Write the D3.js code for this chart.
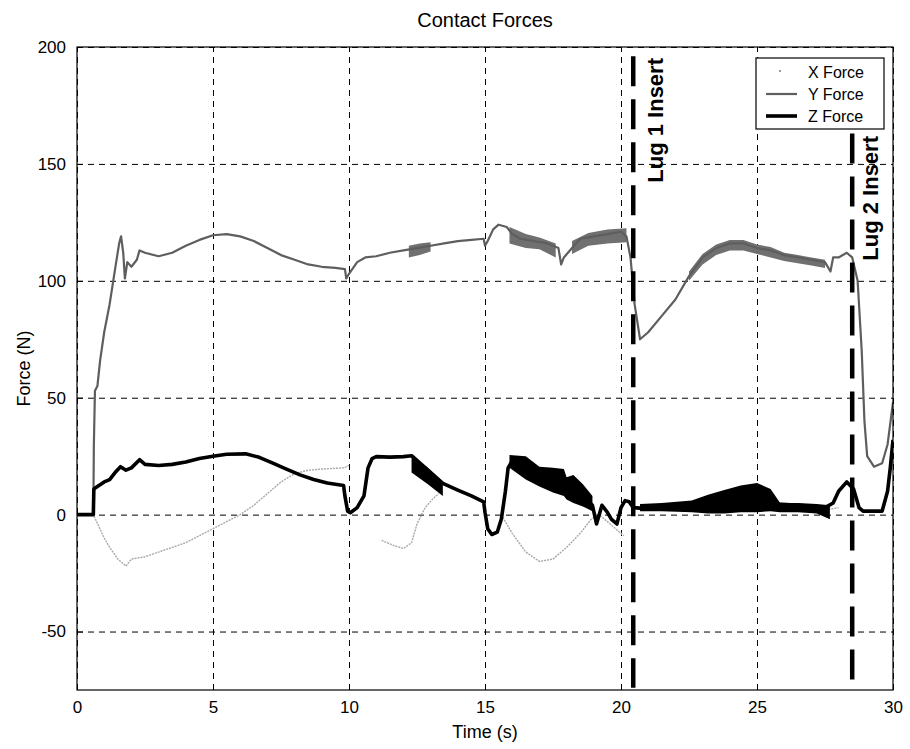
<!DOCTYPE html>
<html>
<head>
<meta charset="utf-8">
<script src="https://d3js.org/d3.v7.min.js"></script>
<style>
  body { margin: 0; background: #fff; }
  svg text { font-family: "Liberation Sans", Arial, sans-serif; fill: #000; }
</style>
</head>
<body>
<div id="chart"></div>
<script>
// Values (time s, force N)
let xTicks = [0, 5, 10, 15, 20, 25, 30];
let yTicks = [-50, 0, 50, 100, 150, 200];
let seriesNames = ['X Force', 'Y Force', 'Z Force'];

let xForce = [
  [0, 0], [0.6, 0], [0.8, -5], [1.0, -10], [1.2, -14], [1.5, -19], [1.8, -22], [2.0, -19],
  [2.5, -18], [3.0, -16], [3.5, -14], [4.0, -12], [4.5, -9], [5.0, -6], [5.5, -3], [6.0, 0],
  [6.5, 4], [7.0, 9], [7.5, 14], [8.0, 17.5], [8.5, 19], [9.0, 19.5], [9.8, 20], [10.0, 21],
  [10.05, null],
  [11.2, -11], [11.6, -13], [12.0, -14.5], [12.3, -12], [12.5, -4], [12.8, 3], [13.1, 7], [13.3, 9],
  [13.35, null],
  [15.6, 0], [16.0, -8], [16.5, -16], [17.0, -20], [17.5, -19], [18.0, -14], [18.5, -8], [18.9, -2],
  [19.2, 0], [19.5, -3], [19.8, -6], [20.1, -9],
  [20.15, null],
  [20.8, 2], [21.5, 2.5], [22.5, 3], [23.5, 3.5], [24.5, 4], [25.5, 3], [26.5, 2.5], [27.5, 2],
  [28.0, 3]
];

let yForce = [
  [0, 0], [0.6, 0], [0.62, 30], [0.66, 53], [0.75, 55], [0.85, 66], [1.0, 78], [1.2, 90],
  [1.4, 105], [1.55, 116], [1.62, 119], [1.7, 112], [1.76, 101], [1.85, 108], [2.0, 106],
  [2.2, 109], [2.3, 113], [2.5, 112], [3.0, 110.5], [3.5, 112], [4.0, 115], [4.5, 117.5],
  [5.0, 119.5], [5.5, 120], [6.0, 119], [6.5, 117], [7.0, 114], [7.5, 111], [8.0, 109],
  [8.5, 107], [9.0, 106], [9.5, 105.5], [9.85, 105], [9.9, 101], [10.0, 103], [10.3, 108],
  [10.6, 110], [11.0, 110.5], [11.5, 112], [12.0, 113], [12.5, 114], [13.0, 115], [13.5, 116],
  [14.0, 117], [14.5, 117.5], [14.95, 118], [15.0, 115], [15.1, 117], [15.3, 122], [15.5, 124],
  [15.8, 123], [16.0, 120], [16.3, 118], [16.8, 117], [17.3, 116], [17.7, 114], [17.8, 107],
  [17.9, 110], [18.2, 114], [18.5, 118], [19.0, 119], [19.5, 120], [20.0, 121], [20.2, 119],
  [20.35, 110], [20.5, 90], [20.7, 75], [21.0, 78], [21.5, 85], [22.0, 92], [22.5, 102],
  [23.0, 110], [23.5, 114], [24.0, 116], [24.5, 116], [25.0, 114], [25.5, 113], [26.0, 111],
  [26.5, 110], [27.0, 109], [27.5, 108], [27.7, 104], [27.8, 110], [28.0, 110], [28.3, 112],
  [28.5, 110], [28.7, 100], [28.85, 70], [28.95, 40], [29.05, 25], [29.3, 20.5], [29.6, 22],
  [29.8, 30], [30, 48]
];

let zForce = [
  [0, 0], [0.6, 0], [0.62, 11], [0.75, 12], [1.0, 14], [1.2, 15], [1.4, 18], [1.6, 20.5],
  [1.8, 19], [2.0, 20], [2.3, 23.5], [2.5, 21.5], [3.0, 21], [3.5, 21.5], [4.0, 22.5],
  [4.5, 24], [5.0, 25], [5.5, 25.8], [6.2, 26], [6.7, 24.5], [7.2, 22], [7.7, 19.5],
  [8.2, 17], [8.7, 15], [9.2, 13.5], [9.8, 12.5], [9.85, 8], [9.95, 1.5], [10.05, 0.8],
  [10.3, 3], [10.55, 8], [10.7, 20], [10.85, 24], [11.0, 24.8], [11.5, 24.6], [12.0, 24.8],
  [12.3, 25.2], [13.45, 13.4], [14.0, 10.5], [14.5, 8], [14.95, 5.5], [15.0, 1], [15.1, -6],
  [15.25, -8.5], [15.45, -7.5], [15.6, -2], [15.75, 10], [15.85, 20], [16.0, 23], [16.5, 20],
  [17.0, 16], [17.5, 14.5], [17.9, 13.5], [18.0, 11], [18.25, 11], [18.6, 8], [18.95, 4],
  [19.1, -4], [19.3, 4], [19.5, 1], [19.65, -2], [19.85, -4], [20.0, 3], [20.15, 6],
  [20.3, 5.5], [20.45, 3], [20.7, 2.8], [21.5, 3], [22.5, 3.5], [23.0, 5], [23.5, 6.5],
  [24.0, 8], [24.5, 9], [25.0, 8.5], [25.5, 7], [25.8, 4.5], [26.5, 4], [27.5, 3], [27.8, 5],
  [28.0, 10], [28.3, 14], [28.55, 11], [28.75, 3], [28.9, 1.5], [29.6, 1.5], [29.8, 10],
  [29.9, 20], [30, 32]
];

// noisy stretches drawn as filled envelopes: [time, low, high]
let yForceBand = [
  [12.2, 110, 115], [12.6, 111, 116], [13.0, 112.5, 116.5], [13.05, null, null],
  [15.9, 116, 123], [16.5, 114, 120], [17.0, 113.5, 118.5], [17.6, 110, 116], [17.65, null, null],
  [18.2, 111.5, 117], [18.8, 115, 120.5], [19.5, 116, 122], [20.2, 116.5, 122.5], [20.25, null, null],
  [22.5, 100, 104], [23.0, 107, 111.5], [23.5, 111, 115.5], [24.0, 113, 117.5], [24.5, 113, 117.5],
  [25.0, 111.5, 115.5], [25.5, 110, 114.5], [26.0, 108.5, 112], [26.5, 107.5, 111],
  [27.0, 106.5, 110], [27.5, 105.5, 109]
];

let zForceBand = [
  [12.3, 18, 25.2], [12.9, 13, 20], [13.45, 8, 14], [13.5, null, null],
  [15.9, 20, 25.5], [16.5, 15, 25], [17.0, 12, 20.5], [17.5, 9.5, 20], [17.9, 8, 19.5],
  [18.0, 6.5, 16], [18.25, 5, 17], [18.6, 3.5, 13], [18.95, 1.5, 8], [19.0, null, null],
  [20.7, 1.5, 4.5], [21.5, 1.5, 5], [22.6, 1, 6], [23.2, 0.5, 8.5], [23.8, 0.5, 10.5],
  [24.4, 1, 12.5], [25.0, 1, 13.5], [25.5, 1.5, 11], [25.85, 1, 5], [26.5, 1, 5],
  [27.2, 0.5, 4.5], [27.68, -2, 4]
];

let lugTimes = [20.45, 28.5];
let lugTops = [196, 163];
let lugLabels = ['Lug 1 Insert', 'Lug 2 Insert'];

let width = 910, height = 749;
let margin = { top: 47, right: 17, bottom: 59, left: 77 };
let plotW = width - margin.left - margin.right;
let plotH = height - margin.top - margin.bottom;

let svg = d3.select('#chart').append('svg')
            .attr('width', width)
            .attr('height', height);

let xScale = d3.scaleLinear().domain([0, 30]).range([0, plotW]);
let yScale = d3.scaleLinear().domain([-75, 200]).range([plotH, 0]);

let g = svg.append('g').attr('transform', `translate(${margin.left}, ${margin.top})`);

// gridlines
g.append('g')
 .attr('class', 'grid x')
 .attr('transform', `translate(0, ${plotH})`)
 .call(d3.axisBottom(xScale).tickValues(xTicks).tickSize(-plotH).tickFormat(''));
g.append('g')
 .attr('class', 'grid y')
 .call(d3.axisLeft(yScale).tickValues(yTicks).tickSize(-plotW).tickFormat(''));
g.selectAll('.grid .domain').remove();
g.selectAll('.grid line')
 .attr('stroke', '#000')
 .attr('stroke-width', 1)
 .attr('stroke-dasharray', '6,5');

g.append('clipPath').attr('id', 'plotclip')
 .append('rect').attr('width', plotW).attr('height', plotH);

let plot = g.append('g').attr('clip-path', 'url(#plotclip)');

let line = d3.line()
             .defined(d => d[1] !== null)
             .x(d => xScale(d[0]))
             .y(d => yScale(d[1]));
let band = d3.area()
             .defined(d => d[1] !== null)
             .x(d => xScale(d[0]))
             .y0(d => yScale(d[1]))
             .y1(d => yScale(d[2]));

// X force, light and thin
plot.append('path').datum(xForce)
    .attr('d', line)
    .attr('fill', 'none')
    .attr('stroke', '#a8a8a8')
    .attr('stroke-width', 1.4)
    .attr('stroke-dasharray', '2,1');

// Y force
plot.append('path').datum(yForceBand)
    .attr('d', band)
    .attr('fill', '#707070');
plot.append('path').datum(yForce)
    .attr('d', line)
    .attr('fill', 'none')
    .attr('stroke', '#5e5e5e')
    .attr('stroke-width', 2.2)
    .attr('stroke-linejoin', 'round');

// Z force
plot.append('path').datum(zForceBand)
    .attr('d', band)
    .attr('fill', '#000');
plot.append('path').datum(zForce)
    .attr('d', line)
    .attr('fill', 'none')
    .attr('stroke', '#000')
    .attr('stroke-width', 3.6)
    .attr('stroke-linejoin', 'round');

// lug insert markers
lugTimes.forEach((t, i) => {
  g.append('line')
   .attr('x1', xScale(t)).attr('x2', xScale(t))
   .attr('y1', yScale(lugTops[i])).attr('y2', yScale(-74))
   .attr('stroke', '#000')
   .attr('stroke-width', 4.5)
   .attr('stroke-dasharray', '30,13');
});
let lugTextX = [655 - margin.left, 870 - margin.left];
let lugTextY = [58 - margin.top, 136 - margin.top];
lugLabels.forEach((s, i) => {
  g.append('text')
   .attr('transform', `translate(${lugTextX[i]}, ${lugTextY[i]}) rotate(-90)`)
   .attr('text-anchor', 'end')
   .attr('dominant-baseline', 'central')
   .style('font-size', '22px')
   .style('font-weight', 'bold')
   .text(s);
});

// axes with inward ticks
let xAxis = g.append('g')
             .attr('transform', `translate(0, ${plotH})`)
             .call(d3.axisBottom(xScale).tickValues(xTicks).tickSizeInner(-6).tickSizeOuter(0).tickPadding(11)
                     .tickFormat(d => String(d)));
let yAxis = g.append('g')
             .call(d3.axisLeft(yScale).tickValues(yTicks).tickSizeInner(-6).tickSizeOuter(0).tickPadding(11)
                     .tickFormat(d => String(d)));
[xAxis, yAxis].forEach(a => {
  a.selectAll('text').style('font-size', '17px').attr('font-family', null);
  a.selectAll('line').attr('stroke', '#000');
  a.select('.domain').remove();
});

// plot box
g.append('rect')
 .attr('width', plotW).attr('height', plotH)
 .attr('fill', 'none').attr('stroke', '#000').attr('stroke-width', 1.2);

// titles
svg.append('text')
   .attr('x', margin.left + plotW / 2).attr('y', 27)
   .attr('text-anchor', 'middle')
   .style('font-size', '20px')
   .text('Contact Forces');
svg.append('text')
   .attr('x', margin.left + plotW / 2).attr('y', 738)
   .attr('text-anchor', 'middle')
   .style('font-size', '18px')
   .text('Time (s)');
svg.append('text')
   .attr('transform', `translate(30, ${margin.top + plotH / 2}) rotate(-90)`)
   .attr('text-anchor', 'middle')
   .style('font-size', '18px')
   .text('Force (N)');

// legend
let legend = svg.append('g').attr('transform', 'translate(756, 58)');
legend.append('rect')
      .attr('width', 128).attr('height', 71)
      .attr('fill', '#fff').attr('stroke', '#000').attr('stroke-width', 1.2);
let legendRows = legend.selectAll('g.row')
                       .data(seriesNames)
                       .enter().append('g')
                       .attr('class', 'row')
                       .attr('transform', (d, i) => `translate(0, ${14 + i * 22})`);
legendRows.append('text')
          .attr('x', 52).attr('y', 0)
          .attr('dominant-baseline', 'central')
          .style('font-size', '16px')
          .text(d => d);
legendRows.filter((d, i) => i === 0)
          .append('circle')
          .attr('cx', 24).attr('cy', -1).attr('r', 1)
          .attr('fill', '#777');
legendRows.filter((d, i) => i === 1)
          .append('line')
          .attr('x1', 10).attr('x2', 41)
          .attr('stroke', '#5e5e5e').attr('stroke-width', 2.2);
legendRows.filter((d, i) => i === 2)
          .append('line')
          .attr('x1', 10).attr('x2', 41)
          .attr('stroke', '#000').attr('stroke-width', 3.6);
</script>
</body>
</html>
